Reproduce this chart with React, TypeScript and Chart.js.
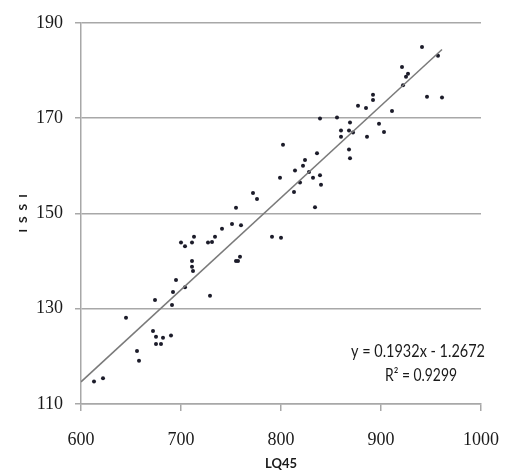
import React, { useEffect, useRef } from "react";
import { Chart, registerables } from "chart.js";

Chart.register(...registerables);

const LQ45 = [
  613, 622, 645, 656, 658, 672, 675, 682, 690, 675, 680, 674, 691, 692, 695, 704,
  729, 711, 711, 712, 700, 704, 711, 713, 727, 731, 734, 741, 751, 760, 755, 755,
  757, 759, 772, 776, 791, 800, 802, 799, 813, 814, 819, 822, 824, 828, 832, 834,
  836, 839, 840, 839, 856, 860, 868, 860, 869, 872, 868, 869, 886, 877, 885, 892,
  892, 898, 903, 911, 921, 927, 925, 922, 941, 957, 946, 961,
];
const ISSI = [
  114.7, 115.4, 128.1, 121.1, 119.1, 125.3, 124.1, 123.9, 124.4, 122.6, 122.6, 131.8, 130.8, 133.5, 136.0, 134.5,
  132.7, 140.0, 138.8, 137.9, 143.9, 143.1, 143.9, 145.1, 143.9, 144.0, 145.1, 146.8, 147.8, 147.5, 151.2, 140.0,
  140.0, 140.9, 154.3, 153.0, 145.1, 144.9, 164.4, 157.5, 154.5, 159.0, 156.5, 160.0, 161.2, 158.7, 157.5, 151.3,
  162.6, 158.0, 156.0, 169.9, 170.1, 167.4, 167.4, 166.1, 169.1, 167.0, 163.4, 161.6, 166.1, 172.6, 172.1, 174.9,
  173.8, 168.8, 167.1, 171.5, 180.7, 179.3, 178.7, 176.9, 184.9, 183.1, 174.5, 174.3,
];

const X_TICKS = [600, 700, 800, 900, 1000];
const Y_TICKS = [110, 130, 150, 170, 190];
const TREND_COEF = [0.1932, -1.2672]; // slope, intercept
const TREND_X = [600, 961];
const EQUATION_LINES = ["y = 0.1932x - 1.2672", "R\u00B2 = 0.9299"];
const X_TITLE = "LQ45";
const Y_TITLE = "I\u2002S\u2002S\u2002I";

const annotationPlugin = {
  id: "equationText",
  afterDatasetsDraw(chart: any) {
    const { ctx } = chart;
    ctx.save();
    ctx.fillStyle = "#1a1a1a";
    ctx.textAlign = "center";
    ctx.textBaseline = "middle";
    ctx.font = "17px Lato";
    ctx.fillText(EQUATION_LINES[0], 418, 352, 134);
    ctx.fillText(EQUATION_LINES[1], 421, 376, 72);
    ctx.restore();
  },
};

export default function App() {
  const canvasRef = useRef<HTMLCanvasElement | null>(null);

  useEffect(() => {
    const canvas = canvasRef.current;
    if (!canvas) return;
    const points = LQ45.map((x, i) => ({ x, y: ISSI[i] }));
    const trend = TREND_X.map((x) => ({ x, y: TREND_COEF[0] * x + TREND_COEF[1] }));
    const gridColor = "#a8a8a8";
    const chart = new Chart(canvas, {
      type: "scatter",
      data: {
        datasets: [
          {
            type: "line",
            label: "Linear (ISSI)",
            data: trend,
            borderColor: "#7a7a7a",
            borderWidth: 1.5,
            pointRadius: 0,
            fill: false,
          } as any,
          {
            label: "ISSI",
            data: points,
            pointRadius: 2,
            pointBackgroundColor: "#1c1c2a",
            pointBorderWidth: 0,
            borderWidth: 0,
          },
        ],
      },
      options: {
        animation: false,
        responsive: false,
        layout: { padding: { top: 16, right: 25, left: 0, bottom: 0 } },
        plugins: {
          legend: { display: false },
          tooltip: { enabled: false },
        },
        scales: {
          x: {
            type: "linear",
            min: 600,
            max: 1000,
            afterBuildTicks: (scale: any) => {
              scale.ticks = X_TICKS.map((v) => ({ value: v }));
            },
            afterFit: (scale: any) => {
              scale.height = 72;
            },
            grid: {
              drawOnChartArea: false,
              drawTicks: true,
              tickLength: 7,
              color: gridColor,
              lineWidth: 1.5,
            },
            border: { display: true, color: gridColor, width: 1.5 },
            ticks: {
              font: { family: "Liberation Serif", size: 18 },
              color: "#1a1a1a",
              padding: 18,
              maxRotation: 0,
              callback: (v: any) => String(v),
            },
            title: {
              display: true,
              text: X_TITLE,
              font: { family: "Lato", size: 13, weight: "bold" },
              color: "#1a1a1a",
              padding: { top: 0, bottom: 4 },
            },
          },
          y: {
            type: "linear",
            min: 110,
            max: 190,
            afterBuildTicks: (scale: any) => {
              scale.ticks = Y_TICKS.map((v) => ({ value: v }));
            },
            afterFit: (scale: any) => {
              scale.width = 81;
            },
            grid: {
              drawOnChartArea: true,
              drawTicks: true,
              tickLength: 6,
              color: gridColor,
              lineWidth: 1.5,
            },
            border: { display: true, color: gridColor, width: 1.5 },
            ticks: {
              font: { family: "Liberation Serif", size: 18 },
              color: "#1a1a1a",
              padding: 12,
              callback: (v: any) => String(v),
            },
            title: {
              display: true,
              text: Y_TITLE,
              font: { family: "Lato", size: 12, weight: "bold" },
              color: "#1a1a1a",
              padding: { top: 16, bottom: 0 },
            },
          },
        },
      },
      plugins: [annotationPlugin],
    });
    return () => chart.destroy();
  }, []);

  return (
    <div style={{ position: "fixed", left: 0, top: 0, width: 517, height: 476, background: "#fff" }}>
      <canvas ref={canvasRef} width={517} height={476} style={{ display: "block" }} />
    </div>
  );
}
